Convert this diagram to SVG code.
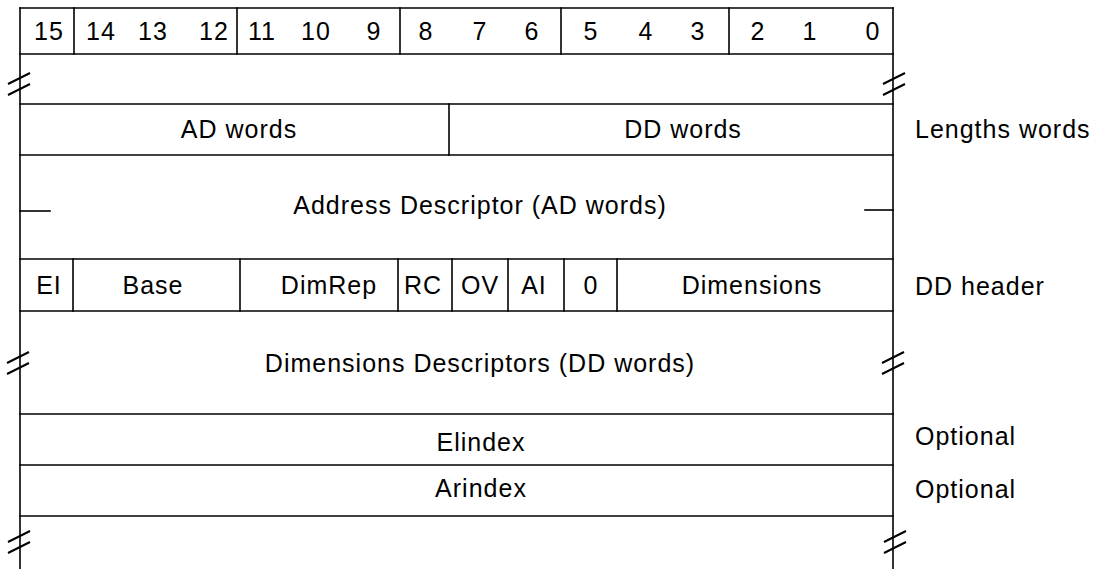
<svg xmlns="http://www.w3.org/2000/svg" width="1099" height="569" viewBox="0 0 1099 569">
<style>
  .ln{stroke:#000;stroke-width:1.6;fill:none;stroke-linecap:square}
  .brk{stroke:#000;stroke-width:2;fill:none}
  text{font-family:"Liberation Sans",Arial,sans-serif;font-size:25px;letter-spacing:1px;fill:#000}
  .c{text-anchor:middle}
</style>
<defs>
  <g id="brk">
    <line class="brk" x1="-11" y1="0" x2="11" y2="-11"/>
    <line class="brk" x1="-11" y1="11" x2="11" y2="0"/>
  </g>
</defs>
<rect width="1099" height="569" fill="#fff"/>

<g id="frame">
  <line class="ln" x1="20" y1="8" x2="20" y2="569"/>
  <line class="ln" x1="893" y1="8" x2="893" y2="569"/>
  <line class="ln" x1="20" y1="8" x2="893" y2="8"/>
  <line class="ln" x1="20" y1="54" x2="893" y2="54"/>
  <line class="ln" x1="20" y1="104" x2="893" y2="104"/>
  <line class="ln" x1="20" y1="155" x2="893" y2="155"/>
  <line class="ln" x1="20" y1="259" x2="893" y2="259"/>
  <line class="ln" x1="20" y1="311" x2="893" y2="311"/>
  <line class="ln" x1="20" y1="414" x2="893" y2="414"/>
  <line class="ln" x1="20" y1="465" x2="893" y2="465"/>
  <line class="ln" x1="20" y1="516" x2="893" y2="516"/>
</g>

<g id="bits">
  <line class="ln" x1="74" y1="8" x2="74" y2="54"/>
  <line class="ln" x1="237" y1="8" x2="237" y2="54"/>
  <line class="ln" x1="400" y1="8" x2="400" y2="54"/>
  <line class="ln" x1="561" y1="8" x2="561" y2="54"/>
  <line class="ln" x1="729" y1="8" x2="729" y2="54"/>
  <text class="c" x="49" y="40">15</text>
  <text class="c" x="101" y="40">14</text>
  <text class="c" x="153" y="40">13</text>
  <text class="c" x="214" y="40">12</text>
  <text class="c" x="262" y="40">11</text>
  <text class="c" x="316" y="40">10</text>
  <text class="c" x="374" y="40">9</text>
  <text class="c" x="426" y="40">8</text>
  <text class="c" x="480" y="40">7</text>
  <text class="c" x="532" y="40">6</text>
  <text class="c" x="591" y="40">5</text>
  <text class="c" x="646" y="40">4</text>
  <text class="c" x="698" y="40">3</text>
  <text class="c" x="758" y="40">2</text>
  <text class="c" x="810" y="40">1</text>
  <text class="c" x="873" y="40">0</text>
</g>

<g id="gap-top">
  <use href="#brk" x="19" y="84"/>
  <use href="#brk" x="894" y="84"/>
</g>

<g id="lengths">
  <line class="ln" x1="449" y1="104" x2="449" y2="155"/>
  <text class="c" x="239" y="138">AD words</text>
  <text class="c" x="683" y="138">DD words</text>
  <text x="915" y="138">Lengths words</text>
</g>

<g id="address-descriptor">
  <line class="ln" x1="20" y1="211" x2="50" y2="211"/>
  <line class="ln" x1="865" y1="210" x2="893" y2="210"/>
  <text class="c" x="480" y="214">Address Descriptor (AD words)</text>
</g>

<g id="dd-header">
  <line class="ln" x1="73" y1="259" x2="73" y2="311"/>
  <line class="ln" x1="240" y1="259" x2="240" y2="311"/>
  <line class="ln" x1="398" y1="259" x2="398" y2="311"/>
  <line class="ln" x1="452" y1="259" x2="452" y2="311"/>
  <line class="ln" x1="508" y1="259" x2="508" y2="311"/>
  <line class="ln" x1="564" y1="259" x2="564" y2="311"/>
  <line class="ln" x1="617" y1="259" x2="617" y2="311"/>
  <text class="c" x="49" y="294">EI</text>
  <text class="c" x="153" y="294">Base</text>
  <text class="c" x="329" y="294">DimRep</text>
  <text class="c" x="423" y="294">RC</text>
  <text class="c" x="480" y="294">OV</text>
  <text class="c" x="534" y="294">AI</text>
  <text class="c" x="591" y="294">0</text>
  <text class="c" x="752" y="294">Dimensions</text>
  <text x="915" y="295">DD header</text>
</g>

<g id="dimensions-descriptors">
  <use href="#brk" x="18" y="363"/>
  <use href="#brk" x="893" y="363"/>
  <text class="c" x="480" y="372">Dimensions Descriptors (DD words)</text>
</g>

<g id="elindex">
  <text class="c" x="481" y="451">Elindex</text>
  <text x="915" y="445">Optional</text>
</g>

<g id="arindex">
  <text class="c" x="481" y="497">Arindex</text>
  <text x="915" y="498">Optional</text>
</g>

<g id="gap-bottom">
  <use href="#brk" x="19" y="542"/>
  <use href="#brk" x="895" y="542"/>
</g>
</svg>
